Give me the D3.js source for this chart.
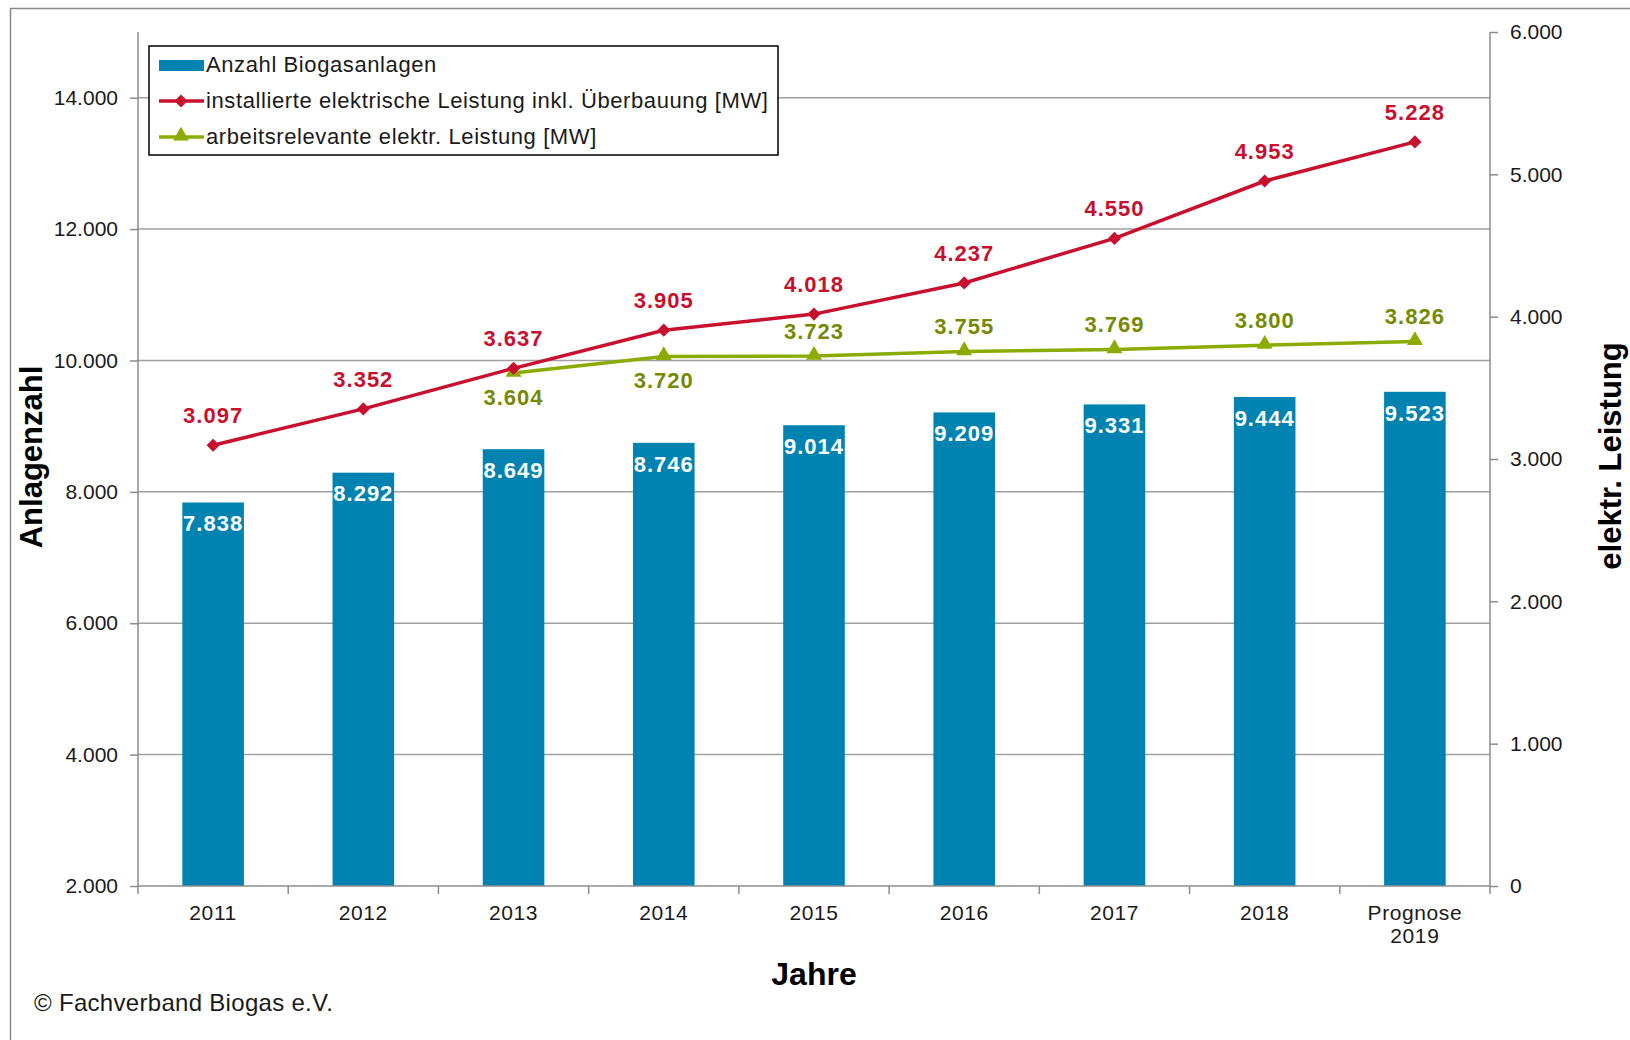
<!DOCTYPE html>
<html>
<head>
<meta charset="utf-8">
<script src="https://cdn.jsdelivr.net/npm/d3@7"></script>
<style>
    html, body { margin: 0; padding: 0; background: #fff; }
    svg { display: block; font-family: "Liberation Sans", Arial, sans-serif; }
</style>
</head>
<body>
<svg id="chart" width="1630" height="1040"></svg>
<script>
// Jahre (Kategorien)
const categories = ['2011', '2012', '2013', '2014', '2015', '2016', '2017', '2018', 'Prognose 2019'];
// Anzahl Biogasanlagen
const plantCounts = [7838, 8292, 8649, 8746, 9014, 9209, 9331, 9444, 9523];
// installierte elektrische Leistung inkl. Überbauung [MW]
const installedPower = [3097, 3352, 3637, 3905, 4018, 4237, 4550, 4953, 5228];
// arbeitsrelevante elektr. Leistung [MW] (ab 2013)
const workingPower = [null, null, 3604, 3720, 3723, 3755, 3769, 3800, 3826];
// Label unterhalb des Punktes?
const workingLabelBelow = [false, false, true, true, false, false, false, false, false];

const leftTicks = [2000, 4000, 6000, 8000, 10000, 12000, 14000];
const rightTicks = [0, 1000, 2000, 3000, 4000, 5000, 6000];

const COLORS = {
    bar: '#0083b1',
    red: '#c8102e',
    green: '#8cab00',
    greenText: '#758a00',
    grid: '#a0a0a0',
    axis: '#8c8c8c',
    text: '#1a1a1a'
};

const fmt = d3.formatLocale({ decimal: ',', thousands: '.', grouping: [3], currency: ['', ' €'] }).format(',.0f');

const svg = d3.select('#chart');
const plot = { left: 138, right: 1490, top: 32, bottom: 886 };

// Rahmen
svg.append('rect')
    .attr('x', 10.5).attr('y', 8.5)
    .attr('width', 1640).attr('height', 1060)
    .attr('fill', 'none')
    .attr('stroke', '#8a8a8a')
    .attr('stroke-width', 1.5);

const x = d3.scaleBand()
    .domain(categories)
    .range([plot.left, plot.right])
    .paddingInner(0.59)
    .paddingOuter(0.295);

const yLeft = d3.scaleLinear().domain([2000, 15000]).range([plot.bottom, plot.top]);
const yRight = d3.scaleLinear().domain([0, 6000]).range([plot.bottom, plot.top]);

const cx = (category) => x(category) + x.bandwidth() / 2;

// Gitterlinien
svg.append('g')
    .selectAll('line')
    .data(leftTicks.filter((t) => t > 2000))
    .enter()
    .append('line')
    .attr('x1', plot.left).attr('x2', plot.right)
    .attr('y1', (d) => yLeft(d)).attr('y2', (d) => yLeft(d))
    .attr('stroke', COLORS.grid)
    .attr('stroke-width', 1.5);

// Balken
svg.append('g')
    .selectAll('rect')
    .data(categories)
    .enter()
    .append('rect')
    .attr('x', (d) => x(d))
    .attr('y', (d, i) => yLeft(plantCounts[i]))
    .attr('width', x.bandwidth())
    .attr('height', (d, i) => plot.bottom - yLeft(plantCounts[i]))
    .attr('fill', COLORS.bar);

// Linke Achse
svg.append('g')
    .attr('transform', `translate(${plot.left},0)`)
    .call(d3.axisLeft(yLeft).tickValues(leftTicks).tickSize(8).tickPadding(12).tickFormat(fmt))
    .call((g) => g.select('.domain').attr('d', `M-0,${plot.top}V${plot.bottom}`))
    .call((g) => g.selectAll('line, .domain').attr('stroke', COLORS.axis).attr('stroke-width', 1.5))
    .call((g) => g.selectAll('text')
        .attr('fill', COLORS.text)
        .attr('font-size', 21)
        .attr('font-family', '"Liberation Sans", Arial, sans-serif'));

// Rechte Achse
svg.append('g')
    .attr('transform', `translate(${plot.right},0)`)
    .call(d3.axisRight(yRight).tickValues(rightTicks).tickSize(8).tickPadding(12).tickFormat(fmt))
    .call((g) => g.select('.domain').attr('d', `M0,${plot.top}V${plot.bottom}`))
    .call((g) => g.selectAll('line, .domain').attr('stroke', COLORS.axis).attr('stroke-width', 1.5))
    .call((g) => g.selectAll('text')
        .attr('fill', COLORS.text)
        .attr('font-size', 21)
        .attr('font-family', '"Liberation Sans", Arial, sans-serif'));

// Untere Achse
const bottomAxis = svg.append('g').attr('transform', `translate(0,${plot.bottom})`);
bottomAxis.append('line')
    .attr('x1', plot.left).attr('x2', plot.right)
    .attr('stroke', COLORS.axis).attr('stroke-width', 1.5);
bottomAxis.selectAll('.cat-tick')
    .data(d3.range(categories.length + 1))
    .enter()
    .append('line')
    .attr('class', 'cat-tick')
    .attr('x1', (i) => plot.left + i * x.step())
    .attr('x2', (i) => plot.left + i * x.step())
    .attr('y1', 0).attr('y2', 8)
    .attr('stroke', COLORS.axis).attr('stroke-width', 1.5);
bottomAxis.selectAll('.cat-label')
    .data(categories)
    .enter()
    .append('text')
    .attr('class', 'cat-label')
    .attr('x', (d) => cx(d))
    .attr('y', 28)
    .attr('text-anchor', 'middle')
    .attr('dominant-baseline', 'middle')
    .attr('font-size', 21)
    .attr('letter-spacing', 0.6)
    .attr('fill', COLORS.text)
    .each(function (d) {
        const parts = d.split(' ');
        d3.select(this).selectAll('tspan')
            .data(parts)
            .enter()
            .append('tspan')
            .attr('x', cx(d))
            .attr('dy', (p, i) => (i === 0 ? 0 : 23))
            .text((p) => p);
    });

// Balkenbeschriftung
svg.append('g')
    .selectAll('text')
    .data(categories)
    .enter()
    .append('text')
    .attr('x', (d) => cx(d))
    .attr('y', (d, i) => yLeft(plantCounts[i]) + 23)
    .attr('text-anchor', 'middle')
    .attr('dominant-baseline', 'middle')
    .attr('font-size', 22)
    .attr('letter-spacing', 1)
    .attr('font-weight', 700)
    .attr('fill', '#fff')
    .text((d, i) => fmt(plantCounts[i]));

// Linien
const valueLine = d3.line()
    .x((d) => cx(d.cat))
    .y((d) => yRight(d.v));

const redData = categories.map((cat, i) => ({ cat, v: installedPower[i] }));
const greenData = categories
    .map((cat, i) => ({ cat, v: workingPower[i], below: workingLabelBelow[i] }))
    .filter((d) => d.v !== null);

svg.append('path')
    .datum(greenData)
    .attr('d', valueLine)
    .attr('fill', 'none')
    .attr('stroke', COLORS.green)
    .attr('stroke-width', 3.5);

svg.append('path')
    .datum(redData)
    .attr('d', valueLine)
    .attr('fill', 'none')
    .attr('stroke', COLORS.red)
    .attr('stroke-width', 3.5);

const diamond = d3.symbol().type(d3.symbolDiamond2).size(110);
const triangle = d3.symbol().type(d3.symbolTriangle).size(110);

svg.append('g')
    .selectAll('path')
    .data(greenData)
    .enter()
    .append('path')
    .attr('transform', (d) => `translate(${cx(d.cat)},${yRight(d.v) - 1})`)
    .attr('d', triangle)
    .attr('fill', COLORS.green);

svg.append('g')
    .selectAll('path')
    .data(redData)
    .enter()
    .append('path')
    .attr('transform', (d) => `translate(${cx(d.cat)},${yRight(d.v)})`)
    .attr('d', diamond)
    .attr('fill', COLORS.red);

// Punktbeschriftungen
svg.append('g')
    .selectAll('text')
    .data(redData)
    .enter()
    .append('text')
    .attr('x', (d) => cx(d.cat))
    .attr('y', (d) => yRight(d.v) - 28)
    .attr('text-anchor', 'middle')
    .attr('dominant-baseline', 'middle')
    .attr('font-size', 22)
    .attr('letter-spacing', 1)
    .attr('font-weight', 700)
    .attr('fill', COLORS.red)
    .text((d) => fmt(d.v));

svg.append('g')
    .selectAll('text')
    .data(greenData)
    .enter()
    .append('text')
    .attr('x', (d) => cx(d.cat))
    .attr('y', (d) => yRight(d.v) + (d.below ? 26 : -23))
    .attr('text-anchor', 'middle')
    .attr('dominant-baseline', 'middle')
    .attr('font-size', 22)
    .attr('letter-spacing', 1)
    .attr('font-weight', 700)
    .attr('fill', COLORS.greenText)
    .text((d) => fmt(d.v));

// Achsentitel
svg.append('text')
    .attr('transform', 'translate(34,457) rotate(-90)')
    .attr('text-anchor', 'middle')
    .attr('dominant-baseline', 'middle')
    .attr('font-size', 31)
    .attr('font-weight', 700)
    .attr('fill', '#000')
    .text('Anlagenzahl');

svg.append('text')
    .attr('transform', 'translate(1613,456) rotate(-90)')
    .attr('text-anchor', 'middle')
    .attr('dominant-baseline', 'middle')
    .attr('font-size', 31)
    .attr('font-weight', 700)
    .attr('fill', '#000')
    .text('elektr. Leistung');

svg.append('text')
    .attr('x', 814)
    .attr('y', 977)
    .attr('text-anchor', 'middle')
    .attr('dominant-baseline', 'middle')
    .attr('font-size', 32)
    .attr('font-weight', 700)
    .attr('fill', '#000')
    .text('Jahre');

svg.append('text')
    .attr('x', 34)
    .attr('y', 1005)
    .attr('dominant-baseline', 'middle')
    .attr('font-size', 24)
    .attr('letter-spacing', 0.3)
    .attr('fill', COLORS.text)
    .text('© Fachverband Biogas e.V.');

// Legende
const legend = svg.append('g').attr('transform', 'translate(149,46)');
legend.append('rect')
    .attr('width', 629).attr('height', 109)
    .attr('fill', '#fff')
    .attr('stroke', '#000')
    .attr('stroke-width', 1.5);

const legendItems = [
    { label: 'Anzahl Biogasanlagen', kind: 'bar' },
    { label: 'installierte elektrische Leistung inkl. Überbauung [MW]', kind: 'red' },
    { label: 'arbeitsrelevante elektr. Leistung [MW]', kind: 'green' }
];

const rows = legend.selectAll('.legend-row')
    .data(legendItems)
    .enter()
    .append('g')
    .attr('class', 'legend-row')
    .attr('transform', (d, i) => `translate(0,${19 + i * 36})`);

rows.filter((d) => d.kind === 'bar')
    .append('rect')
    .attr('x', 10).attr('y', -5)
    .attr('width', 45).attr('height', 11)
    .attr('fill', COLORS.bar);

rows.filter((d) => d.kind !== 'bar')
    .append('line')
    .attr('x1', 10).attr('x2', 55)
    .attr('stroke', (d) => (d.kind === 'red' ? COLORS.red : COLORS.green))
    .attr('stroke-width', 3.5);

rows.filter((d) => d.kind === 'red')
    .append('path')
    .attr('transform', 'translate(32,0)')
    .attr('d', diamond)
    .attr('fill', COLORS.red);

rows.filter((d) => d.kind === 'green')
    .append('path')
    .attr('transform', 'translate(32,-1)')
    .attr('d', triangle)
    .attr('fill', COLORS.green);

rows.append('text')
    .attr('x', 57)
    .attr('y', 1)
    .attr('dominant-baseline', 'middle')
    .attr('font-size', 22)
    .attr('letter-spacing', 0.6)
    .attr('fill', COLORS.text)
    .text((d) => d.label);
</script>
</body>
</html>
